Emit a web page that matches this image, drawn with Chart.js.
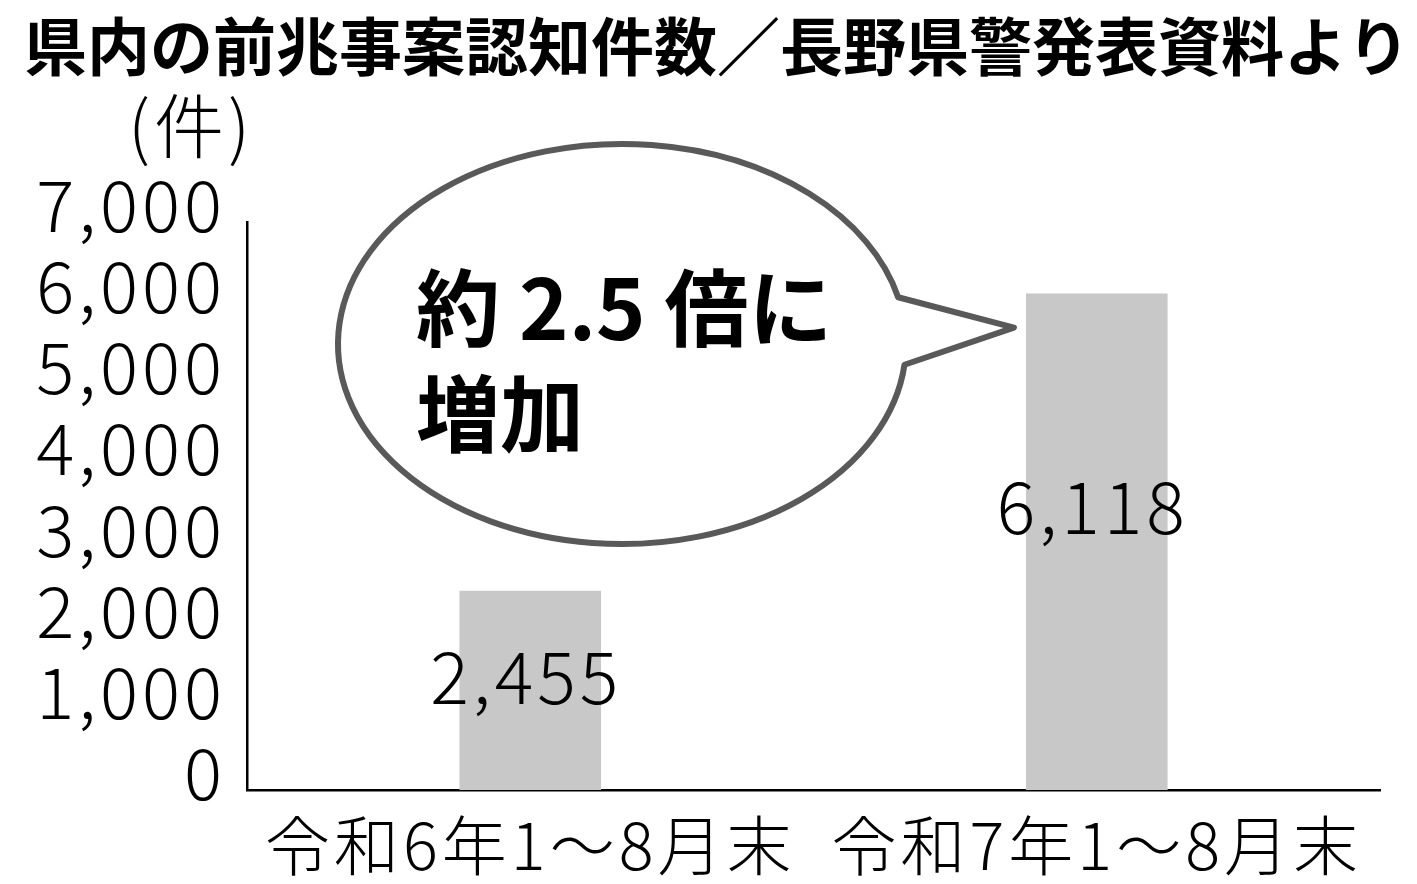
<!DOCTYPE html>
<html>
<head>
<meta charset="utf-8">
<script src="https://cdn.jsdelivr.net/npm/chart.js@4"></script>
<style>
  html, body { margin: 0; padding: 0; background: #fff; }
  #wrap { width: 1417px; height: 884px; position: relative; }
</style>
</head>
<body>
<div id="wrap"><canvas id="chart"></canvas></div>
<script>
const title = '県内の前兆事案認知件数／長野県警発表資料より';
const unitLabel = '(件)';
const categories = ['令和6年1〜8月末', '令和7年1〜8月末'];
const counts = [2455, 6118];
const yTicks = [0, 1000, 2000, 3000, 4000, 5000, 6000, 7000];
const bubbleLines = ['約 2.5 倍に', '増加'];

const JP = "'Noto Sans CJK JP', 'Noto Sans', sans-serif";
const fmt = v => v.toLocaleString('en-US');

// the reference type is a bit wider than Noto, so space the glyphs out
const spacing = {
  id: 'spacing',
  beforeDraw(chart) { chart.ctx.letterSpacing = '4px'; },
  afterDraw(chart) { chart.ctx.letterSpacing = '0px'; }
};

// title, unit, speech bubble and value labels
const decorations = {
  id: 'decorations',
  beforeDraw(chart) {
    const ctx = chart.ctx;
    ctx.save();
    ctx.fillStyle = '#000';
    ctx.textBaseline = 'middle';
    ctx.textAlign = 'left';
    ctx.letterSpacing = '0px';
    ctx.font = "bold 63px " + JP;
    ctx.fillText(title, 24, 46);
    ctx.letterSpacing = '4px';
    ctx.font = "300 70px " + JP;
    ctx.fillText(unitLabel, 128, 126);
    ctx.restore();
  },
  afterDatasetsDraw(chart) {
    const ctx = chart.ctx;
    const meta = chart.getDatasetMeta(0);
    const y = chart.scales.y;
    ctx.save();
    // value labels
    ctx.fillStyle = '#000';
    ctx.font = "300 72px " + JP;
    ctx.letterSpacing = '4px';
    ctx.textAlign = 'center';
    ctx.textBaseline = 'middle';
    meta.data.forEach((bar, i) => {
      ctx.fillText(fmt(counts[i]), bar.x - 4, y.getPixelForValue(counts[i] * 0.57));
    });
    ctx.letterSpacing = '0px';

    // speech bubble pointing at the second bar
    const bar = meta.data[1];
    const tipX = bar.x - bar.width / 2 - 12;
    const tipY = bar.y + 34;
    const cx = 622, cy = 344, rx = 284, ry = 200;
    const a1 = -0.236, a2 = 0.104;
    ctx.beginPath();
    ctx.ellipse(cx, cy, rx, ry, 0, a2, a1 + Math.PI * 2);
    ctx.lineTo(tipX, tipY);
    ctx.closePath();
    ctx.fillStyle = '#fff';
    ctx.fill();
    ctx.lineWidth = 6;
    ctx.lineJoin = 'round';
    ctx.strokeStyle = '#595959';
    ctx.stroke();

    ctx.fillStyle = '#000';
    ctx.textAlign = 'left';
    ctx.textBaseline = 'alphabetic';
    ctx.font = "bold 84px " + JP;
    ctx.fillText(bubbleLines[0], 416, 340);
    ctx.fillText(bubbleLines[1], 416, 446);
    ctx.restore();
  }
};

new Chart(document.getElementById('chart'), {
  type: 'bar',
  data: {
    labels: categories,
    datasets: [{
      data: counts,
      backgroundColor: '#c8c8c8',
      borderWidth: 0,
      barPercentage: 0.25,
      categoryPercentage: 1
    }]
  },
  options: {
    responsive: true,
    maintainAspectRatio: false,
    animation: false,
    devicePixelRatio: 1,
    layout: { padding: { top: 222, right: 37, left: 0, bottom: 0 } },
    plugins: {
      legend: { display: false },
      tooltip: { enabled: false }
    },
    scales: {
      x: {
        grid: { display: false, drawTicks: false },
        border: { display: true, color: '#000', width: 2.5 },
        ticks: {
          color: '#000',
          font: { family: JP, size: 65, weight: '300' },
          padding: 16,
          maxRotation: 0,
          autoSkip: false
        },
        afterFit(scale) { scale.height = 94; }
      },
      y: {
        min: 0,
        max: 7000,
        afterBuildTicks(scale) { scale.ticks = yTicks.map(v => ({ value: v })); },
        grid: { display: false, drawTicks: false },
        border: { display: true, color: '#000', width: 2.5 },
        ticks: {
          color: '#000',
          font: { family: JP, size: 71, weight: '300' },
          padding: 21,
          labelOffset: -17,
          autoSkip: false,
          callback: v => fmt(v)
        },
        afterFit(scale) { scale.width = 247; }
      }
    }
  },
  plugins: [spacing, decorations]
});
</script>
</body>
</html>
